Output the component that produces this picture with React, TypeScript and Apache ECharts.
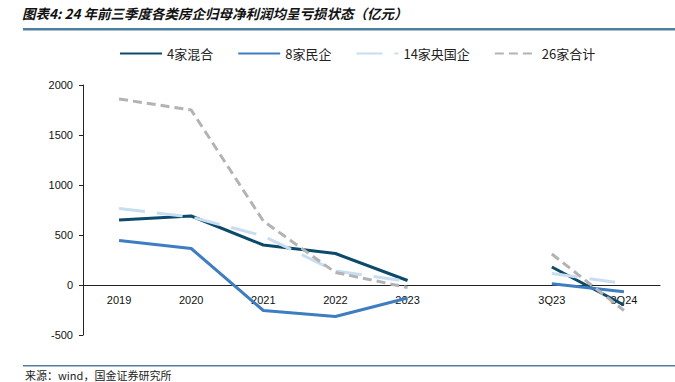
import React, { useEffect, useRef } from "react";
import * as echarts from "echarts";

const categories = ["2019", "2020", "2021", "2022", "2023", "", "3Q23", "3Q24"];
const mixed4 = [650, 690, 400, 315, 45, "-", 180, -200];
const private8 = [445, 365, -255, -315, -130, "-", 12, -68];
const stateOwned14 = [765, 680, 490, 140, 35, "-", 115, 15];
const total26 = [1860, 1750, 640, 125, -25, "-", 310, -255];
const seriesNames = ["4家混合", "8家民企", "14家央国企", "26家合计"];
const yTicks = { min: -500, max: 2000, interval: 500 };

export default function App() {
  const ref = useRef<HTMLDivElement>(null);
  useEffect(() => {
    const chart = echarts.init(ref.current!, null, { renderer: "svg" });
    const font = "'Noto Sans CJK SC', sans-serif";
    const mk = (name: string, data: any[], color: string, type: any) => ({
      name,
      type: "line",
      data,
      symbol: "none",
      connectNulls: false,
      lineStyle: { color, width: 3, type, cap: "butt" },
      itemStyle: { color },
    });
    chart.setOption({
      animation: false,
      grid: { left: 83, right: 15, top: 85, bottom: 47, containLabel: false },
      legend: {
        top: 42,
        left: 114,
        itemWidth: 42,
        itemHeight: 10,
        itemGap: 24,
        itemStyle: { opacity: 0 },
        textStyle: { fontSize: 13, color: "#222", fontFamily: font },
        data: seriesNames,
      },
      xAxis: {
        type: "category",
        data: categories,
        boundaryGap: true,
        axisLine: { onZero: true, lineStyle: { color: "#222", width: 1 } },
        axisTick: { inside: true, length: 4, lineStyle: { color: "#222" } },
        axisLabel: { color: "#111", fontSize: 11, margin: -41, fontFamily: "Liberation Sans, Arial, sans-serif" },
        splitLine: { show: false },
      },
      yAxis: {
        type: "value",
        min: yTicks.min,
        max: yTicks.max,
        interval: yTicks.interval,
        axisLine: { show: true, lineStyle: { color: "#222", width: 1 } },
        axisTick: { show: true, inside: false, length: 4, lineStyle: { color: "#222" } },
        axisLabel: {
          color: "#111",
          fontSize: 11,
          margin: 10,
          fontFamily: "Liberation Sans, Arial, sans-serif",
          formatter: (v: number) => String(v),
        },
        splitLine: { show: false },
      },
      series: [
        mk(seriesNames[0], mixed4, "#0C4A6C", "solid"),
        mk(seriesNames[1], private8, "#3E7DC1", "solid"),
        mk(seriesNames[2], stateOwned14, "#C9DDF1", [26, 12]),
        mk(seriesNames[3], total26, "#B3B3B3", [9, 5]),
      ],
      graphic: [
        {
          type: "text",
          left: 22,
          top: 6,
          style: {
            text: "图表4: 24 年前三季度各类房企归母净利润均呈亏损状态（亿元）",
            fontSize: 13.5,
            fontWeight: "bold",
            fontStyle: "italic",
            fill: "#111",
            fontFamily: font,
          },
        },
        {
          type: "rect",
          shape: { x: 23, y: 28, width: 652, height: 2.5 },
          style: { fill: "#4E7F9E" },
        },
        {
          type: "rect",
          shape: { x: 23, y: 365, width: 652, height: 1.5 },
          style: { fill: "#4E7F9E" },
        },
        {
          type: "text",
          left: 25,
          top: 369,
          style: {
            text: "来源：wind，国金证券研究所",
            fontSize: 11,
            fill: "#222",
            fontFamily: font,
          },
        },
      ],
    });
    return () => chart.dispose();
  }, []);
  return <div ref={ref} style={{ width: 675, height: 382, position: "absolute", left: 0, top: 0 }} />;
}
